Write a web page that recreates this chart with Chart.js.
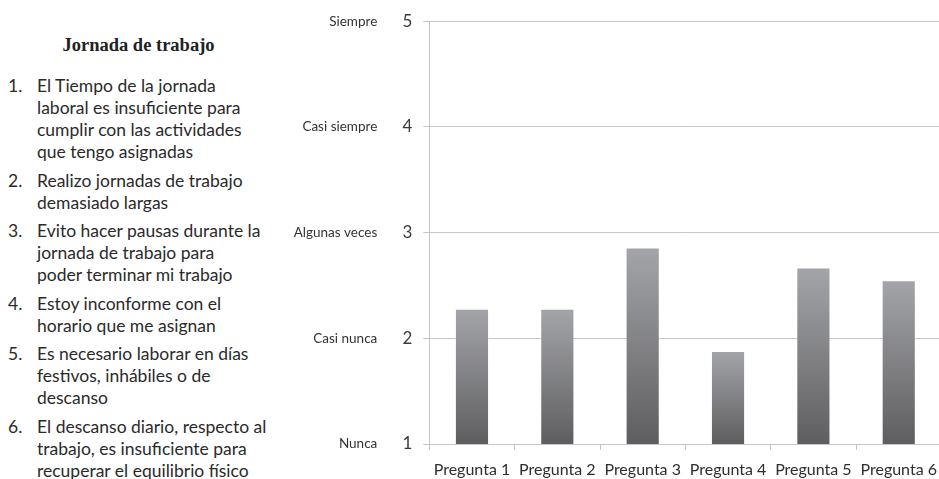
<!DOCTYPE html>
<html lang="es">
<head>
<meta charset="utf-8">
<title>Jornada de trabajo</title>
<script src="https://cdn.jsdelivr.net/npm/chart.js@4/dist/chart.umd.min.js"></script>
<style>
  html, body { margin: 0; padding: 0; background: #fff; width: 939px; height: 479px; overflow: hidden; }
  #legendText { position: absolute; left: 0; top: 0; width: 290px; color: #2a2a2a; font-family: Lato, "Open Sans", sans-serif; }
  #legendText h2 { position: absolute; left: 0; width: 277px; top: 32px; margin: 0; text-align: center;
    font-family: "Liberation Serif", "DejaVu Serif", serif; font-weight: bold; font-size: 18.5px; line-height: 26px; color: #222; }
  #legendText ol { position: absolute; left: 0; top: 75px; margin: 0; padding: 0; list-style: none; }
  #legendText li { position: relative; padding-left: 37px; font-size: 17.5px; line-height: 22px; margin-bottom: 6.5px; white-space: nowrap; }
  #legendText li span.n { position: absolute; left: 8px; top: 0; }
  #chartBox { position: absolute; left: 285px; top: 0; width: 662px; height: 479px; }
</style>
</head>
<body>
<div id="legendText">
  <h2>Jornada de trabajo</h2>
  <ol id="items"></ol>
</div>
<div id="chartBox"><canvas id="chart"></canvas></div>
<script>
// Question statements (explicit line breaks)
const itemLines = [
  ["El Tiempo de la jornada", "laboral es insuficiente para", "cumplir con las actividades", "que tengo asignadas"],
  ["Realizo jornadas de trabajo", "demasiado largas"],
  ["Evito hacer pausas durante la", "jornada de trabajo para", "poder terminar mi trabajo"],
  ["Estoy inconforme con el", "horario que me asignan"],
  ["Es necesario laborar en días", "festivos, inhábiles o de", "descanso"],
  ["El descanso diario, respecto al", "trabajo, es insuficiente para", "recuperar el equilibrio físico"]
];

// Chart data
const categories = ["Pregunta 1", "Pregunta 2", "Pregunta 3", "Pregunta 4", "Pregunta 5", "Pregunta 6"];
const scores = [2.28, 2.28, 2.86, 1.88, 2.67, 2.55];
const scaleValues = [1, 2, 3, 4, 5];
const scaleLabels = ["Nunca", "Casi nunca", "Algunas veces", "Casi siempre", "Siempre"];

const ol = document.getElementById("items");
itemLines.forEach((lines, i) => {
  const li = document.createElement("li");
  const n = document.createElement("span");
  n.className = "n";
  n.textContent = (i + 1) + ".";
  li.appendChild(n);
  lines.forEach((t, k) => {
    if (k) li.appendChild(document.createElement("br"));
    li.appendChild(document.createTextNode(t));
  });
  ol.appendChild(li);
});

const gridColor = "#c6c6c6";

function barGradient(ctx) {
  const chart = ctx.chart;
  if (!chart.chartArea || ctx.type !== "data") return "#808080";
  const ys = chart.scales.y;
  const top = ys.getPixelForValue(ctx.raw);
  const bottom = ys.getPixelForValue(ys.min);
  const g = chart.ctx.createLinearGradient(0, top, 0, bottom);
  g.addColorStop(0, "#a4a5a9");
  g.addColorStop(1, "#5e5e60");
  return g;
}

new Chart(document.getElementById("chart"), {
  type: "bar",
  data: {
    labels: categories,
    datasets: [{
      data: scores,
      backgroundColor: barGradient,
      borderColor: "rgba(255,255,255,0.35)",
      borderWidth: 1,
      borderSkipped: "bottom",
      categoryPercentage: 0.4,
      barPercentage: 1
    }]
  },
  options: {
    responsive: true,
    maintainAspectRatio: false,
    animation: false,
    layout: { padding: { top: 19, right: 0, left: 0, bottom: 0 } },
    plugins: { legend: { display: false }, tooltip: { enabled: false } },
    scales: {
      x: {
        grid: { drawOnChartArea: false, drawTicks: true, tickLength: 6, color: gridColor, offset: true },
        border: { color: gridColor },
        ticks: { color: "#2e2e2e", font: { family: "Lato", size: 16 }, padding: 10, maxRotation: 0, autoSkip: false },
        afterFit: s => { s.height = 35; }
      },
      y: {
        position: "left",
        weight: 0,
        min: 1, max: 5,
        afterBuildTicks: s => { s.ticks = scaleValues.map(v => ({ value: v })); },
        grid: { color: gridColor, tickLength: 6, drawTicks: true },
        border: { color: gridColor },
        ticks: { color: "#3a3a3a", font: { family: "Lato", size: 17 }, padding: 11 },
        afterFit: s => { s.width = 40; }
      },
      yLabels: {
        position: "left",
        weight: 1,
        min: 1, max: 5,
        afterBuildTicks: s => { s.ticks = scaleValues.map(v => ({ value: v })); },
        grid: { display: false, drawTicks: false },
        border: { display: false },
        ticks: {
          color: "#333",
          font: { family: "Lato", size: 13.5 },
          padding: 12,
          callback: v => scaleLabels[scaleValues.indexOf(v)]
        },
        afterFit: s => { s.width = 104.3; }
      }
    }
  }
});
</script>
</body>
</html>
